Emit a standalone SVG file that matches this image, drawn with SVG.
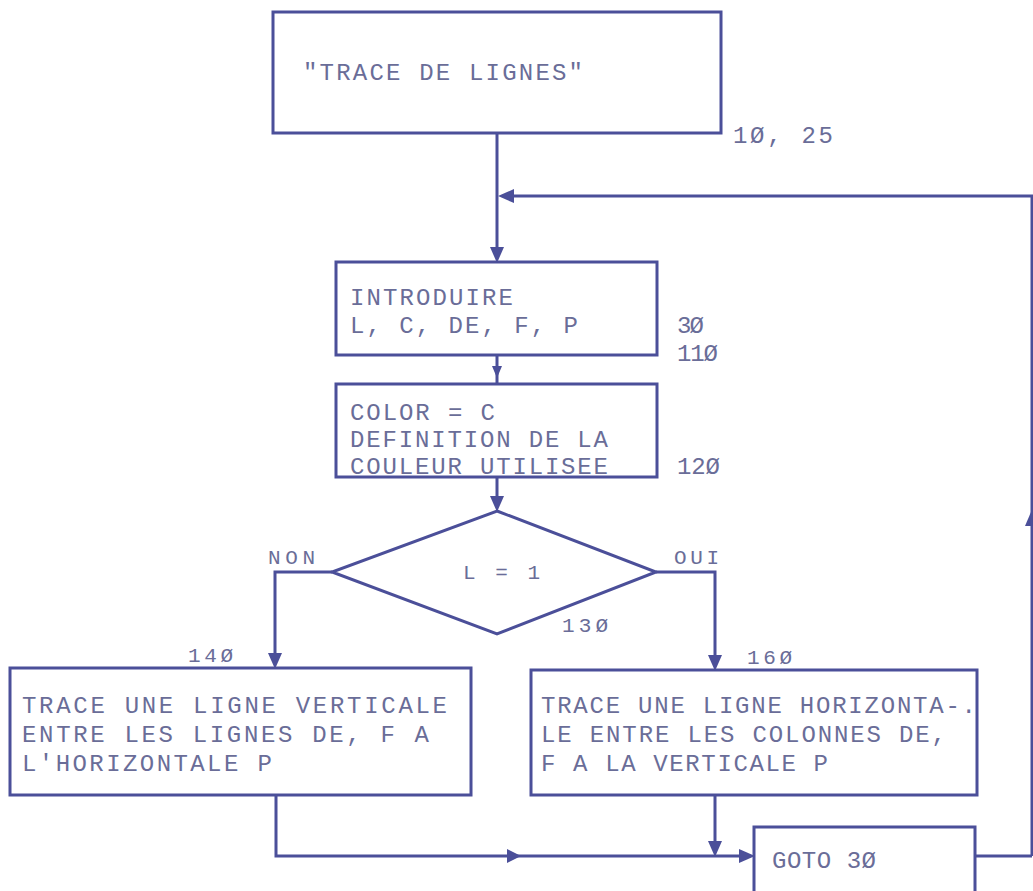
<svg xmlns="http://www.w3.org/2000/svg" width="1033" height="891" viewBox="0 0 1033 891">
<style>
.box{fill:none;stroke:#4b4f99;stroke-width:3}
.ln{fill:none;stroke:#4b4f99;stroke-width:3}
.ah{fill:#4b4f99}
text{font-family:"Liberation Mono","DejaVu Sans Mono",monospace;font-size:24px;fill:#6a6d98}
text.s{font-size:21px}
</style>
<rect width="1033" height="891" fill="#ffffff"/>
<g id="n_title">
<rect class="box" x="273" y="12" width="448" height="121"/>
<text x="303" y="80" textLength="280">"TRACE DE LIGNES"</text>
<text x="733" y="143" textLength="100">1Ø, 25</text>
</g>
<g id="n_input">
<rect class="box" x="336" y="262" width="321" height="93"/>
<text x="350" y="305" textLength="163">INTRODUIRE</text>
<text x="350" y="333" textLength="228">L, C, DE, F, P</text>
<text x="677" y="333" textLength="27">3Ø</text>
<text x="677" y="361" textLength="41">11Ø</text>
</g>
<g id="n_color">
<rect class="box" x="336" y="384" width="321" height="93"/>
<text x="350" y="420" textLength="145">COLOR = C</text>
<text x="350" y="447" textLength="258">DEFINITION DE LA</text>
<text x="350" y="474" textLength="258">COULEUR UTILISEE</text>
<text x="677" y="474" textLength="43">12Ø</text>
</g>
<g id="n_decision">
<polygon class="box" points="497,511 656,572 497,634 332,572"/>
<text class="s" x="463" y="579" textLength="77">L = 1</text>
<text class="s" x="268" y="564" textLength="47">NON</text>
<text class="s" x="674" y="564" textLength="45">OUI</text>
<text class="s" x="562" y="632" textLength="46">13Ø</text>
</g>
<g id="n_vertical">
<rect class="box" x="10" y="668" width="461" height="127"/>
<text x="22" y="713" textLength="425">TRACE UNE LIGNE VERTICALE</text>
<text x="22" y="742" textLength="407">ENTRE LES LIGNES DE, F A</text>
<text x="22" y="771" textLength="250">L'HORIZONTALE P</text>
<text class="s" x="188" y="662" textLength="45">14Ø</text>
</g>
<g id="n_horizontal">
<rect class="box" x="531" y="670" width="446" height="125"/>
<text x="541" y="713" textLength="435">TRACE UNE LIGNE HORIZONTA-.</text>
<text x="541" y="742" textLength="405">LE ENTRE LES COLONNES DE,</text>
<text x="541" y="771" textLength="287">F A LA VERTICALE P</text>
<text class="s" x="747" y="664" textLength="45">16Ø</text>
</g>
<g id="n_goto">
<rect class="box" x="754" y="827" width="221" height="70"/>
<text x="772" y="868" textLength="104">GOTO 3Ø</text>
</g>
<g id="connectors">
<polyline class="ln" points="497,133 497,256"/>
<polygon class="ah" points="497,263 490,247 504,247"/>
<polyline class="ln" points="1032,856 1032,196 503,196"/>
<polygon class="ah" points="498,196 514,189 514,203"/>
<polygon class="ah" points="1031,512 1025,526 1033,526"/>
<polyline class="ln" points="497,355 497,384"/>
<polygon class="ah" points="497,378 492,366 502,366"/>
<polyline class="ln" points="497,477 497,505"/>
<polygon class="ah" points="497,512 490,496 504,496"/>
<polyline class="ln" points="332,572 275,572 275,662"/>
<polygon class="ah" points="275,669 268,653 282,653"/>
<polyline class="ln" points="656,572 715,572 715,664"/>
<polygon class="ah" points="715,671 708,655 722,655"/>
<polyline class="ln" points="276,795 276,856 748,856"/>
<polygon class="ah" points="521,856 507,849 507,863"/>
<polygon class="ah" points="755,856 739,849 739,863"/>
<polyline class="ln" points="715,795 715,850"/>
<polygon class="ah" points="715,857 708,841 722,841"/>
<polyline class="ln" points="975,856 1032,856"/>
</g>
</svg>
